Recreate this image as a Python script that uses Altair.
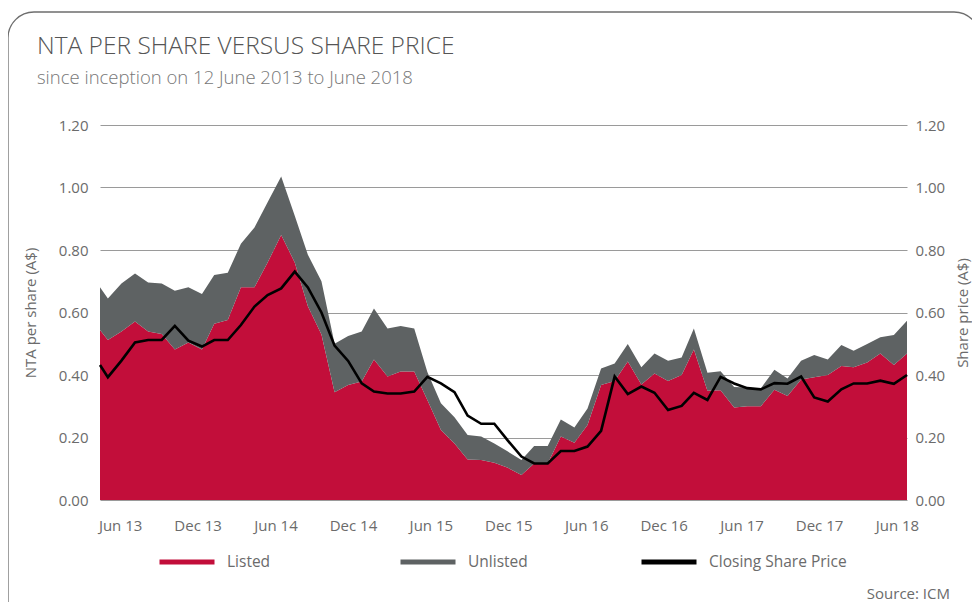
import altair as alt
import pandas as pd

# ---------------- data ----------------
start = pd.Timestamp("2013-06-12")
month_ends = list(pd.date_range("2013-07-01", periods=61, freq="MS") - pd.Timedelta(days=1))
dates = [start] + month_ends
days = [(d - start).days for d in dates]

listed = [0.544, 0.512, 0.539, 0.571, 0.539, 0.531, 0.482, 0.504, 0.482, 0.564,
          0.576, 0.681, 0.681, 0.760, 0.848, 0.760, 0.620, 0.530, 0.345, 0.368,
          0.379, 0.450, 0.395, 0.411, 0.411, 0.320, 0.224, 0.181, 0.130, 0.128,
          0.119, 0.103, 0.080, 0.117, 0.117, 0.203, 0.183, 0.240, 0.368, 0.381,
          0.443, 0.370, 0.405, 0.381, 0.400, 0.482, 0.350, 0.351, 0.296, 0.300,
          0.300, 0.353, 0.333, 0.386, 0.393, 0.400, 0.429, 0.425, 0.440, 0.469,
          0.432, 0.469]

unlisted = [0.137, 0.133, 0.154, 0.154, 0.157, 0.162, 0.188, 0.177, 0.177, 0.156,
            0.151, 0.139, 0.191, 0.193, 0.187, 0.150, 0.165, 0.170, 0.155, 0.157,
            0.160, 0.163, 0.154, 0.146, 0.138, 0.090, 0.086, 0.084, 0.078, 0.075,
            0.062, 0.052, 0.048, 0.056, 0.056, 0.055, 0.049, 0.053, 0.053, 0.056,
            0.056, 0.055, 0.064, 0.065, 0.056, 0.067, 0.057, 0.061, 0.066, 0.060,
            0.057, 0.064, 0.056, 0.060, 0.071, 0.050, 0.067, 0.053, 0.059, 0.052,
            0.096, 0.105]

price = [0.432, 0.393, 0.446, 0.504, 0.512, 0.512, 0.557, 0.510, 0.491, 0.512,
         0.512, 0.560, 0.619, 0.656, 0.677, 0.731, 0.680, 0.600, 0.494, 0.445,
         0.373, 0.347, 0.341, 0.341, 0.347, 0.394, 0.373, 0.345, 0.270, 0.244,
         0.244, 0.190, 0.139, 0.117, 0.117, 0.157, 0.157, 0.171, 0.221, 0.395,
         0.339, 0.363, 0.343, 0.288, 0.301, 0.343, 0.320, 0.394, 0.373, 0.358,
         0.354, 0.374, 0.372, 0.395, 0.328, 0.315, 0.354, 0.373, 0.373, 0.382,
         0.372, 0.400]

series_names = ["Listed", "Unlisted", "Closing Share Price"]
tick_labels = ["Jun 13", "Dec 13", "Jun 14", "Dec 14", "Jun 15", "Dec 15",
               "Jun 16", "Dec 16", "Jun 17", "Dec 17", "Jun 18"]
tick_days = [46, 223, 401, 578, 756, 933, 1111, 1288, 1466, 1643, 1821]
y_ticks = [0.0, 0.2, 0.4, 0.6, 0.8, 1.0, 1.2]

title_text = "NTA PER SHARE VERSUS SHARE PRICE"
subtitle_text = "since inception on 12 June 2013 to June 2018"
source_text = "Source: ICM"

# ---------------- tables ----------------
area_rows = []
for d, l, u in zip(days, listed, unlisted):
    area_rows.append({"day": d, "series": "Listed", "value": l, "ord": 0})
    area_rows.append({"day": d, "series": "Unlisted", "value": u, "ord": 1})
area_df = pd.DataFrame(area_rows)
price_df = pd.DataFrame({"day": days, "price": price, "series": "Closing Share Price"})
one_df = pd.DataFrame({"title": [title_text], "subtitle": [subtitle_text], "source": [source_text]})

RED = "#C20E3A"
GRAY = "#5E6263"
BLACK = "#000000"
TXT = "#6b6b6b"
FONT = "Open Sans"

label_expr = " : ".join(f"datum.value == {d} ? '{l}'" for d, l in zip(tick_days, tick_labels)) + " : ''"

x_scale = alt.Scale(domain=[0, days[-1]], nice=False, zero=False)
x_axis = alt.Axis(values=tick_days, labelExpr=label_expr, grid=False, ticks=False,
                  domain=False, labelPadding=18, labelFlush=False, title=None)
y_scale_l = alt.Scale(domain=[0, 1.2], nice=False)
y_scale_r = alt.Scale(domain=[0, 1.2], nice=False)

frame = alt.Chart(one_df).mark_rect(filled=False, stroke="#6e6e6e", strokeWidth=1.3,
                                    cornerRadius=26).encode(
    x=alt.value(-92), x2=alt.value(880), y=alt.value(-113), y2=alt.value(700)
)

title = alt.Chart(one_df).mark_text(align="left", baseline="middle", fontSize=24.5,
                                    fontWeight=300, font=FONT, color="#555555").encode(
    x=alt.value(-63), y=alt.value(-78), text="title:N"
)
subtitle = alt.Chart(one_df).mark_text(align="left", baseline="middle", fontSize=18.5,
                                       fontWeight=300, font=FONT, color="#777777").encode(
    x=alt.value(-63), y=alt.value(-47), text="subtitle:N"
)

area = alt.Chart(area_df).mark_area(interpolate="linear", opacity=1).encode(
    x=alt.X("day:Q", scale=x_scale, axis=x_axis),
    y=alt.Y("value:Q", stack="zero", scale=y_scale_l,
            axis=alt.Axis(values=y_ticks, format=".2f", title="NTA per share (A$)",
                          grid=True, gridColor="#9a9a9a", gridWidth=1, domain=False,
                          ticks=False, labelPadding=12, titlePadding=20, labelFlush=False)),
    fill=alt.Fill("series:N", scale=alt.Scale(domain=["Listed", "Unlisted"], range=[RED, GRAY]),
                  legend=None),
    order=alt.Order("ord:Q"),
)

line = alt.Chart(price_df).mark_line(strokeWidth=2.6, interpolate="linear").encode(
    x=alt.X("day:Q", scale=x_scale, axis=x_axis),
    y=alt.Y("price:Q", scale=y_scale_r,
            axis=alt.Axis(orient="right", values=y_ticks, format=".2f", title="Share price (A$)",
                          grid=False, domain=False, ticks=False, labelPadding=8,
                          titlePadding=26, titleAngle=270, labelFlush=False)),
    color=alt.Color("series:N",
                    scale=alt.Scale(domain=series_names, range=[RED, GRAY, BLACK]),
                    legend=alt.Legend(orient="none", legendX=57, legendY=407,
                                      direction="horizontal", columns=3, gridAlign="all",
                                      columnPadding=25, symbolType="stroke", symbolSize=3025,
                                      symbolStrokeWidth=5, labelOffset=10, labelFontSize=15.5,
                                      labelColor=TXT, labelFont=FONT, labelLimit=300,
                                      title=None, padding=0)),
)

note = alt.Chart(one_df).mark_text(align="right", baseline="middle", fontSize=15,
                                   font=FONT, color=TXT).encode(
    x=alt.value(850), y=alt.value(469), text="source:N"
)

chart = alt.layer(frame, title, subtitle, area, line, note).resolve_scale(y="independent").properties(
    width=807,
    height=375,
    autosize=alt.AutoSizeParams(type="none"),
    padding={"left": 92, "top": 117, "right": 65, "bottom": 102},
).configure_view(stroke=None).configure_axis(
    labelFont=FONT, titleFont=FONT, labelColor=TXT, titleColor=TXT,
    labelFontSize=15, titleFontSize=15, titleFontWeight="normal",
)

chart.save("out.html", embed_options={"renderer": "svg", "actions": False})
